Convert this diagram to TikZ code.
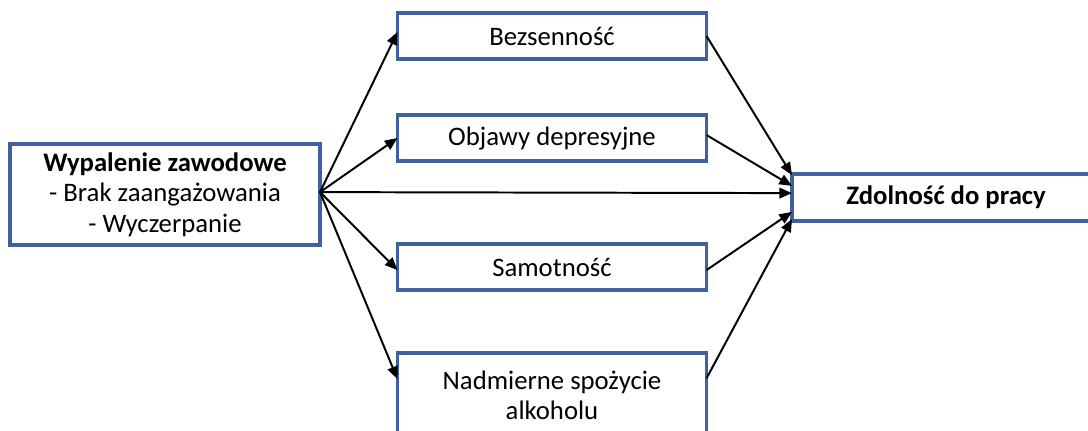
\documentclass[tikz,border=0pt]{standalone}
\usepackage{fontspec}
\setmainfont{Carlito}
\usetikzlibrary{arrows.meta,positioning}
\definecolor{boxblue}{RGB}{65,97,158}

\begin{document}
\begin{tikzpicture}[
  x=0.025cm, y=-0.025cm,
  cause/.style={draw=boxblue, line width=2.4pt, fill=white, minimum width=7.75cm, minimum height=2.525cm, inner sep=0pt, outer sep=0pt, align=center, font=\fontsize{19}{21.6}\selectfont},
  factor/.style={draw=boxblue, line width=2.4pt, fill=white, minimum width=7.725cm, minimum height=1.15cm, inner sep=0pt, outer sep=0pt, align=center, font=\fontsize{19}{21.6}\selectfont},
  outcome/.style={draw=boxblue, line width=2.4pt, fill=white, minimum width=7.7cm, minimum height=1.175cm, inner sep=0pt, outer sep=0pt, align=center, font=\fontsize{19}{21.6}\selectfont\bfseries},
  arr/.style={-{Triangle[length=9pt, width=7.5pt]}, line width=1.4pt, black},
  node distance=1.4cm
]
  \clip (0,0) rectangle (1088,430);

  % Cause
  \node[cause] (burn) at (165,194.5) {\textbf{Wypalenie zawodowe}\\- Brak zaangażowania\\- Wyczerpanie};

  % Mediators
  \node[factor] (bez) at (552,36) {Bezsenność};
  \node[factor, below=1.4cm of bez] (depr) {Objawy depresyjne};
  \node[factor, below=2.075cm of depr] (samo) {Samotność};
  \node[factor, below=1.575cm of samo, minimum height=2.1cm] (alko) {Nadmierne spożycie\\alkoholu};

  % Outcome
  \node[outcome] (work) at (946,197.5) {Zdolność do pracy};

  % Arrows from cause
  \draw[arr] ([yshift=0.06cm]burn.east) -- ([yshift=0.1cm]bez.west);
  \draw[arr] ([yshift=0.06cm]burn.east) -- (depr.west);
  \draw[arr] ([yshift=0.06cm]burn.east) -- ([yshift=-0.075cm]samo.west);
  \draw[arr] ([yshift=0.06cm]burn.east) -- ([yshift=0.4cm]alko.west);
  \draw[arr] ([yshift=0.06cm]burn.east) -- ([yshift=0.11cm]work.west);

  % Arrows to outcome
  \draw[arr] (bez.east) -- ([yshift=0.56cm]work.west);
  \draw[arr] ([yshift=0.075cm]depr.east) -- ([yshift=0.29cm]work.west);
  \draw[arr] ([yshift=-0.075cm]samo.east) -- ([yshift=-0.36cm]work.west);
  \draw[arr] ([yshift=0.42cm]alko.east) -- ([yshift=-0.54cm]work.west);
\end{tikzpicture}
\end{document}
